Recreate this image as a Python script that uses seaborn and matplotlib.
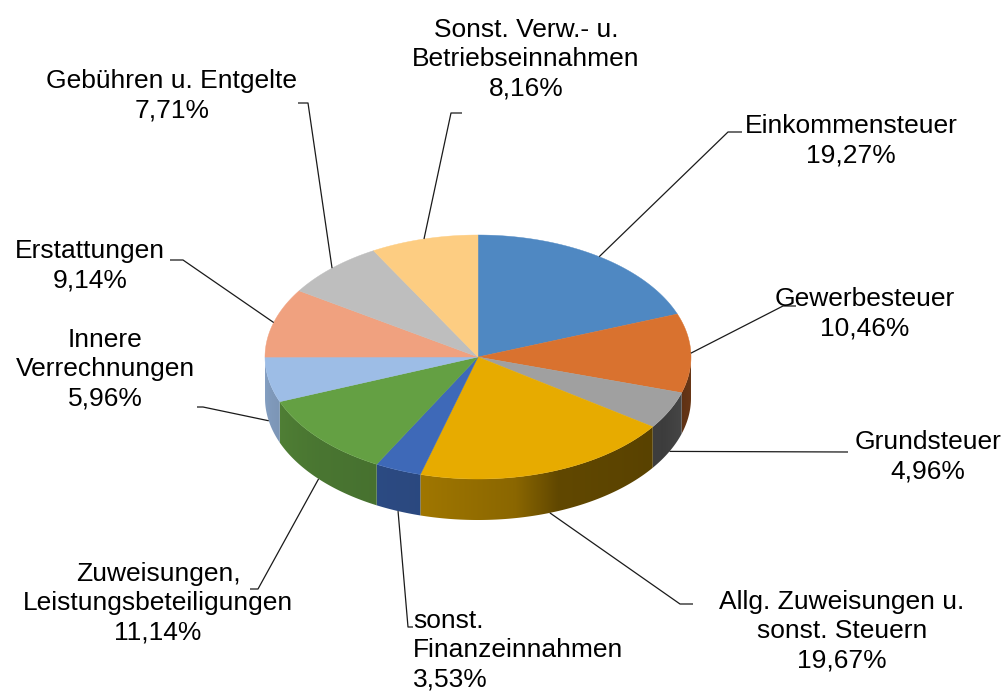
import numpy as np
import matplotlib
matplotlib.use('Agg')
import matplotlib.pyplot as plt
from matplotlib.patches import Polygon
from matplotlib.colors import to_rgb
import seaborn as sns

# Daten
kategorien = ['Einkommensteuer', 'Gewerbesteuer', 'Grundsteuer',
              'Allg. Zuweisungen u.\nsonst. Steuern', 'sonst.\nFinanzeinnahmen',
              'Zuweisungen,\nLeistungsbeteiligungen', 'Innere\nVerrechnungen',
              'Erstattungen', 'Gebühren u. Entgelte',
              'Sonst. Verw.- u.\nBetriebseinnahmen']
anteile = [19.27, 10.46, 4.96, 19.67, 3.53, 11.14, 5.96, 9.14, 7.71, 8.16]

# Farben (Excel-Stil)
farben = ['#4f88c2', '#d9722f', '#a0a0a0', '#e7ab00', '#3e69b8',
          '#64a043', '#9dbde6', '#f0a17f', '#bebebe', '#fdcd82']

# Geometrie der 3D-Torte (Pixel)
cx, cy, ra, rb, hoehe = 478, 357, 213, 122, 41

# Beschriftungen: Textposition, Ausrichtung, Knickpunkt, Ende der Linie
layout = [
    (851, 141, 'center', (728, 132), 742),
    (865, 314, 'center', (783, 306), 796),
    (928, 457, 'center', (848, 452), 848),
    (842, 631, 'center', (680, 604), 693),
    (413, 650, 'left', (408, 627), 413),
    (158, 603, 'center', (258, 589), 250),
    (105, 369, 'center', (203, 407), 197),
    (90, 266, 'center', (183, 260), 170),
    (172, 96, 'center', (308, 103), 298),
    (526, 59, 'center', (451, 113), 462),
]

sns.set_theme(style='white')
plt.rcParams['font.family'] = ['Liberation Sans', 'DejaVu Sans']

fig = plt.figure(figsize=(10.03, 6.94), dpi=100)
ax = fig.add_axes([0, 0, 1, 1])
ax.set_xlim(0, 1003)
ax.set_ylim(694, 0)
ax.axis('off')


def px(t):
    return cx + ra * np.cos(np.radians(t))


def py(t):
    return cy - rb * np.sin(np.radians(t))


# Helligkeit der Seitenwand je nach Winkel
def helligkeit(t):
    phi = t + 360
    return np.interp(phi, [180, 220, 255, 280, 292, 330, 345, 360],
                     [0.85, 0.74, 0.69, 0.6, 0.42, 0.38, 0.45, 0.5])


werte = np.array(anteile)
kum = np.concatenate([[0], np.cumsum(werte) / werte.sum()])
starts = 90 - 360 * kum[:-1]
enden = 90 - 360 * kum[1:]

# Seitenwände (nur vorderer Teil sichtbar), mit Farbverlauf
for s, e, f in zip(starts, enden, farben):
    lo, hi = max(e, -180), min(s, 0)
    if hi <= lo:
        continue
    ts = np.linspace(lo, hi, int((hi - lo) * 3) + 2)
    oben = np.column_stack([px(ts), py(ts)])
    unten = np.column_stack([px(ts[::-1]), py(ts[::-1]) + hoehe])
    wand = Polygon(np.vstack([oben, unten]), closed=True,
                   fc='none', ec='none', transform=ax.transData)
    ax.add_patch(wand)
    # Verlauf entlang x (x steigt mit dem Winkel im vorderen Bereich)
    x0, x1 = px(ts).min() - 1, px(ts).max() + 1
    xs = np.linspace(x0, x1, 200)
    t_x = -np.degrees(np.arccos(np.clip((xs - cx) / ra, -1, 1)))
    base = np.array(to_rgb(f))
    img = np.clip(base[None, :] * helligkeit(t_x)[:, None], 0, 1)[None, :, :]
    y0, y1 = py(ts).min() - 1, py(ts).max() + hoehe + 1
    im = ax.imshow(img, extent=(x0, x1, y1, y0), aspect='auto',
                   interpolation='bilinear', zorder=1)
    im.set_clip_path(wand)

# Deckfläche
for s, e, f in zip(starts, enden, farben):
    ts = np.linspace(s, e, int(abs(s - e) * 2) + 2)
    xs = np.concatenate([[cx], px(ts)])
    ys = np.concatenate([[cy], py(ts)])
    ax.fill(xs, ys, color=f, lw=0.3, ec=f, zorder=2)

ax.set_xlim(0, 1003)
ax.set_ylim(694, 0)

# Beschriftungen mit Führungslinien
for name, v, s, e, (tx, ty, ha, knick, ende) in zip(kategorien, anteile, starts, enden, layout):
    mitte = (s + e) / 2
    ax_, ay_ = px(mitte), py(mitte)
    if np.sin(np.radians(mitte)) < 0:
        ay_ += hoehe
    ax.plot([ax_, knick[0], ende], [ay_, knick[1], knick[1]],
            color='#1a1a1a', lw=0.9, zorder=3, solid_capstyle='butt')
    text = name + '\n' + f'{v:.2f}'.replace('.', ',') + '%'
    ax.text(tx, ty, text, ha=ha, va='center', multialignment=ha,
            fontsize=19, color='black', linespacing=1.27, zorder=4)

fig.savefig('out.png', dpi=100, facecolor='white')
